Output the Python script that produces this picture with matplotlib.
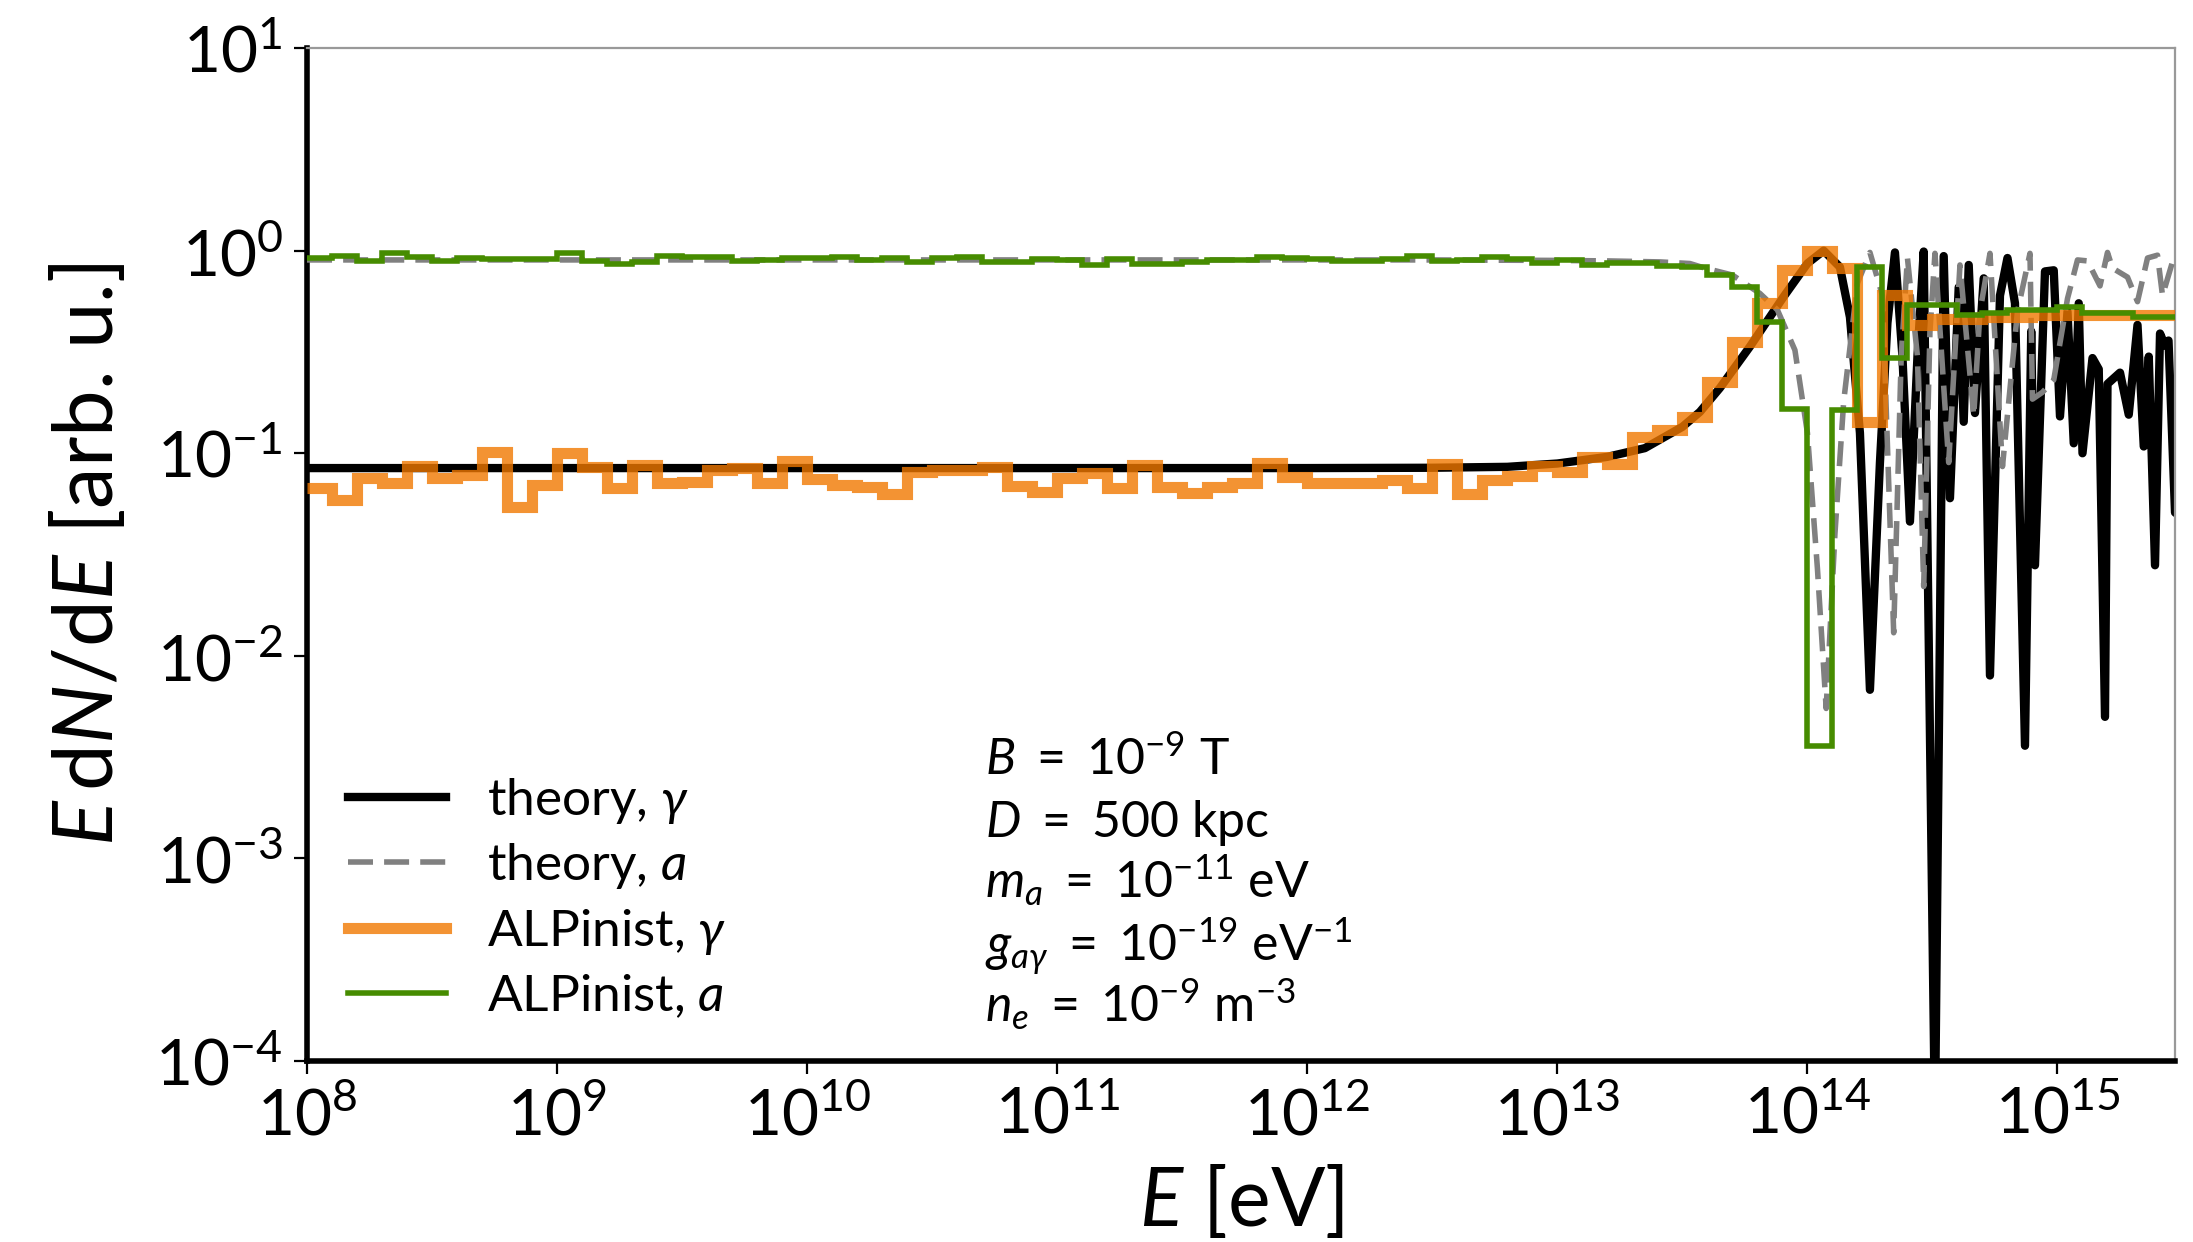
import numpy as np
import matplotlib as mpl
import matplotlib.pyplot as plt
from matplotlib.ticker import LogLocator, NullLocator

plt.rcParams.update({
    'font.family': ['Lato', 'DejaVu Sans'],
    'mathtext.fontset': 'custom',
    'mathtext.rm': 'Lato',
    'mathtext.it': 'Lato:italic',
    'mathtext.bf': 'Lato:bold',
})

# theory curves, sampled as log10(E / eV) and E dN/dE
logE_gamma = [8.0, 9.0, 10.0, 11.0, 12.0, 12.5, 12.8, 13.0, 13.2, 13.35, 13.5, 13.57,
              13.65, 13.77, 13.905, 14.0, 14.065, 14.13, 14.17, 14.21, 14.25, 14.29,
              14.32, 14.35, 14.38, 14.41, 14.44, 14.465, 14.51, 14.545, 14.57, 14.605,
              14.625, 14.645, 14.67, 14.705, 14.73, 14.77, 14.8, 14.83, 14.87, 14.895,
              14.91, 14.95, 14.985, 15.01, 15.04, 15.065, 15.085, 15.1, 15.14, 15.165,
              15.19, 15.2, 15.25, 15.285, 15.32, 15.345, 15.365, 15.39, 15.41, 15.43,
              15.444, 15.47, 15.48]
theory_gamma = [0.0845, 0.0845, 0.0845, 0.0845, 0.0845, 0.0848, 0.0857, 0.089, 0.096, 0.106, 0.135, 0.16,
                0.21, 0.336, 0.593, 0.865, 1.0, 0.83, 0.47, 0.126, 0.0068, 0.09,
                0.44, 0.98, 0.3, 0.046, 0.3, 0.99, 5e-5, 0.94, 0.06, 0.66,
                0.143, 0.85, 0.158, 0.73, 0.008, 0.6, 0.92, 0.55, 0.0036, 0.4,
                0.028, 0.79, 0.8, 0.152, 0.5, 0.112, 0.55, 0.10, 0.295, 0.26,
                0.005, 0.22, 0.25, 0.155, 0.43, 0.108, 0.3, 0.028, 0.39, 0.34,
                0.36, 0.051, 0.05]

logE_axion = [8.0, 9.0, 10.0, 11.0, 12.0, 12.5, 13.0, 13.2, 13.41, 13.53, 13.59, 13.7,
              13.81, 13.88, 13.95, 14.0, 14.04, 14.075, 14.11, 14.145, 14.2, 14.25,
              14.3, 14.345, 14.375, 14.4, 14.44, 14.465, 14.49, 14.51, 14.565, 14.61,
              14.665, 14.69, 14.73, 14.78, 14.84, 14.89, 14.9, 14.94, 14.985, 15.04,
              15.08, 15.12, 15.17, 15.2, 15.22, 15.28, 15.32, 15.36, 15.4, 15.42, 15.47]
theory_axion = [0.90, 0.90, 0.90, 0.90, 0.90, 0.90, 0.895, 0.89, 0.88, 0.864, 0.82, 0.758,
                0.615, 0.51, 0.323, 0.126, 0.027, 0.0055, 0.04, 0.18, 0.69, 0.98,
                0.6, 0.013, 0.3, 0.92, 0.3, 0.022, 0.4, 0.97, 0.09, 0.85,
                0.153, 0.5, 0.97, 0.086, 0.5, 0.97, 0.185, 0.2, 0.23, 0.58,
                0.9, 0.89, 0.67, 0.98, 0.82, 0.74, 0.56, 0.92, 0.95, 0.6, 0.97]

# ALPinist histograms, bins of 0.1 dex starting at 1e8 eV
bin_lo, bin_width = 8.0, 0.1
alpinist_gamma = [0.067, 0.0588, 0.0755, 0.071, 0.0867, 0.0755, 0.078, 0.1016, 0.0545, 0.0697,
                  0.100, 0.0857, 0.067, 0.088, 0.071, 0.0724, 0.083, 0.085, 0.0716, 0.092,
                  0.0747, 0.0697, 0.068, 0.063, 0.081, 0.083, 0.083, 0.0857, 0.0689, 0.0646,
                  0.0755, 0.080, 0.067, 0.088, 0.0684, 0.0638, 0.068, 0.0716, 0.0897, 0.0766,
                  0.071, 0.071, 0.0716, 0.0738, 0.067, 0.089, 0.063, 0.0738, 0.0771, 0.0867,
                  0.081, 0.0955, 0.089, 0.1197, 0.130, 0.151, 0.225, 0.355, 0.549, 0.80,
                  1.0, 0.818, 0.143, 0.604, 0.43, 0.46, 0.46, 0.47, 0.47, 0.48,
                  0.48, 0.48, 0.48, 0.48, 0.48]
alpinist_axion = [0.92, 0.945, 0.89, 0.97, 0.927, 0.89, 0.92, 0.906, 0.906, 0.906,
                  0.97, 0.89, 0.857, 0.88, 0.94, 0.927, 0.927, 0.89, 0.90, 0.92,
                  0.92, 0.927, 0.90, 0.92, 0.88, 0.92, 0.935, 0.88, 0.88, 0.906,
                  0.90, 0.847, 0.906, 0.859, 0.864, 0.88, 0.90, 0.90, 0.927, 0.92,
                  0.906, 0.89, 0.89, 0.906, 0.94, 0.89, 0.90, 0.927, 0.906, 0.87,
                  0.90, 0.853, 0.87, 0.87, 0.84, 0.83, 0.758, 0.658, 0.446, 0.165,
                  0.0036, 0.164, 0.83, 0.296, 0.542, 0.542, 0.48, 0.49, 0.51, 0.51,
                  0.525, 0.49, 0.49, 0.47, 0.47]

params = [r'$B\ =\ 10^{-9}$ T',
          r'$D\ =\ 500$ kpc',
          r'$m_a\ =\ 10^{-11}$ eV',
          r'$g_{a\gamma}\ =\ 10^{-19}$ eV$^{-1}$',
          r'$n_e\ =\ 10^{-9}$ m$^{-3}$']

edges = 10 ** (bin_lo + bin_width * np.arange(len(alpinist_gamma) + 1))

fig = plt.figure(figsize=(10.965, 6.21), dpi=200)
ax = fig.add_axes([0.140, 0.1457, 0.8518, 0.8156])

ax.plot(10 ** np.array(logE_gamma), theory_gamma, color='black', lw=3.0,
        label=r'theory, $\gamma$', zorder=2)
ax.plot(10 ** np.array(logE_axion), theory_axion, color='gray', lw=2.0,
        dashes=(4.5, 2.0), label=r'theory, $a$', zorder=3)
ax.stairs(alpinist_gamma, edges, baseline=None, color='#f07800', alpha=0.8,
          lw=4.0, label=r'ALPinist, $\gamma$', zorder=4)
ax.stairs(alpinist_axion, edges, baseline=None, color='#468c00', lw=2.0,
          label=r'ALPinist, $a$', zorder=5)

ax.set_xscale('log')
ax.set_yscale('log')
ax.set_xlim(1e8, 10 ** 15.47)
ax.set_ylim(1e-4, 1e1)
ax.xaxis.set_major_locator(LogLocator(base=10, numticks=20))
ax.yaxis.set_major_locator(LogLocator(base=10, numticks=20))
ax.xaxis.set_minor_locator(NullLocator())
ax.yaxis.set_minor_locator(NullLocator())
ax.tick_params(which='major', direction='out', length=4.7, width=0.8,
               labelsize=23, pad=4)

for side in ('left', 'bottom'):
    ax.spines[side].set_linewidth(2.0)
    ax.spines[side].set_color('black')
for side in ('top', 'right'):
    ax.spines[side].set_linewidth(0.8)
    ax.spines[side].set_color('0.6')

ax.set_xlabel(r'$E$ [eV]', fontsize=29, labelpad=6)
ax.set_ylabel(r'$E\,\mathrm{d}N/\mathrm{d}E$ [arb. u.]', fontsize=30, labelpad=10)

ax.legend(loc='lower left', frameon=False, fontsize=18.5, handlelength=1.9,
          handletextpad=0.8, labelspacing=0.3, borderaxespad=0.4)

for i, txt in enumerate(params):
    ax.text(0.363, 0.2823 - 0.0610 * i, txt, transform=ax.transAxes,
            fontsize=18, va='baseline', ha='left')

fig.savefig('out.png', dpi=200)
